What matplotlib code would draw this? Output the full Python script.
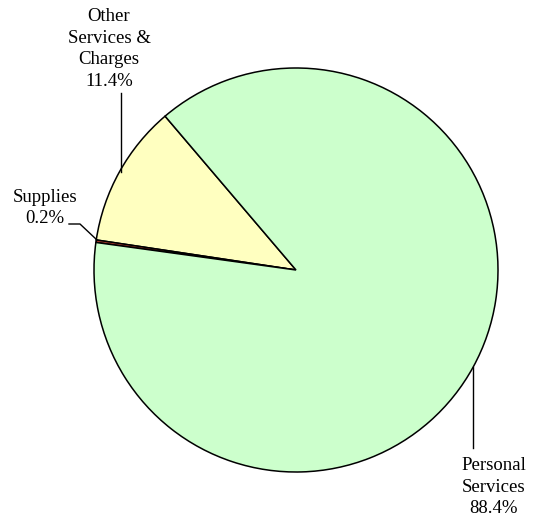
import matplotlib
matplotlib.use("Agg")
import matplotlib.pyplot as plt

# slices, in drawing order (counterclockwise from the top-left edge)
labels = ["Other\nServices &\nCharges", "Supplies", "Personal\nServices"]
shares = [11.4, 0.2, 88.4]
colors = ["#FFFFC0", "#B03A2E", "#CCFFCC"]

W, H = 533, 520
fig = plt.figure(figsize=(W / 100, H / 100), dpi=100)
ax = fig.add_axes([0, 0, 1, 1])

cx, cy, r = 296, H - 270, 202
ax.pie(shares, colors=colors, startangle=130.4, counterclock=True,
       center=(cx, cy), radius=r, frame=True,
       wedgeprops=dict(edgecolor="black", linewidth=1.1))
ax.set_xlim(0, W)
ax.set_ylim(0, H)
ax.set_aspect("equal")
ax.axis("off")

font = dict(family="Liberation Serif", fontsize=13.5, ha="center", va="center",
            linespacing=1.38)
txt = [l + "\n" + f"{s:.1f}%" for l, s in zip(labels, shares)]

ax.text(109, H - 49, txt[0], **font)
ax.plot([121, 121], [H - 93, H - 172], color="black", lw=1)

ax.text(45, H - 208, txt[1], **font)
ax.plot([69, 80, 97], [H - 224, H - 224, H - 240], color="black", lw=1)

ax.text(494, H - 487, txt[2], **font)
ax.plot([473, 473], [H - 367, H - 448], color="black", lw=1)

fig.savefig("out.png", dpi=100)
